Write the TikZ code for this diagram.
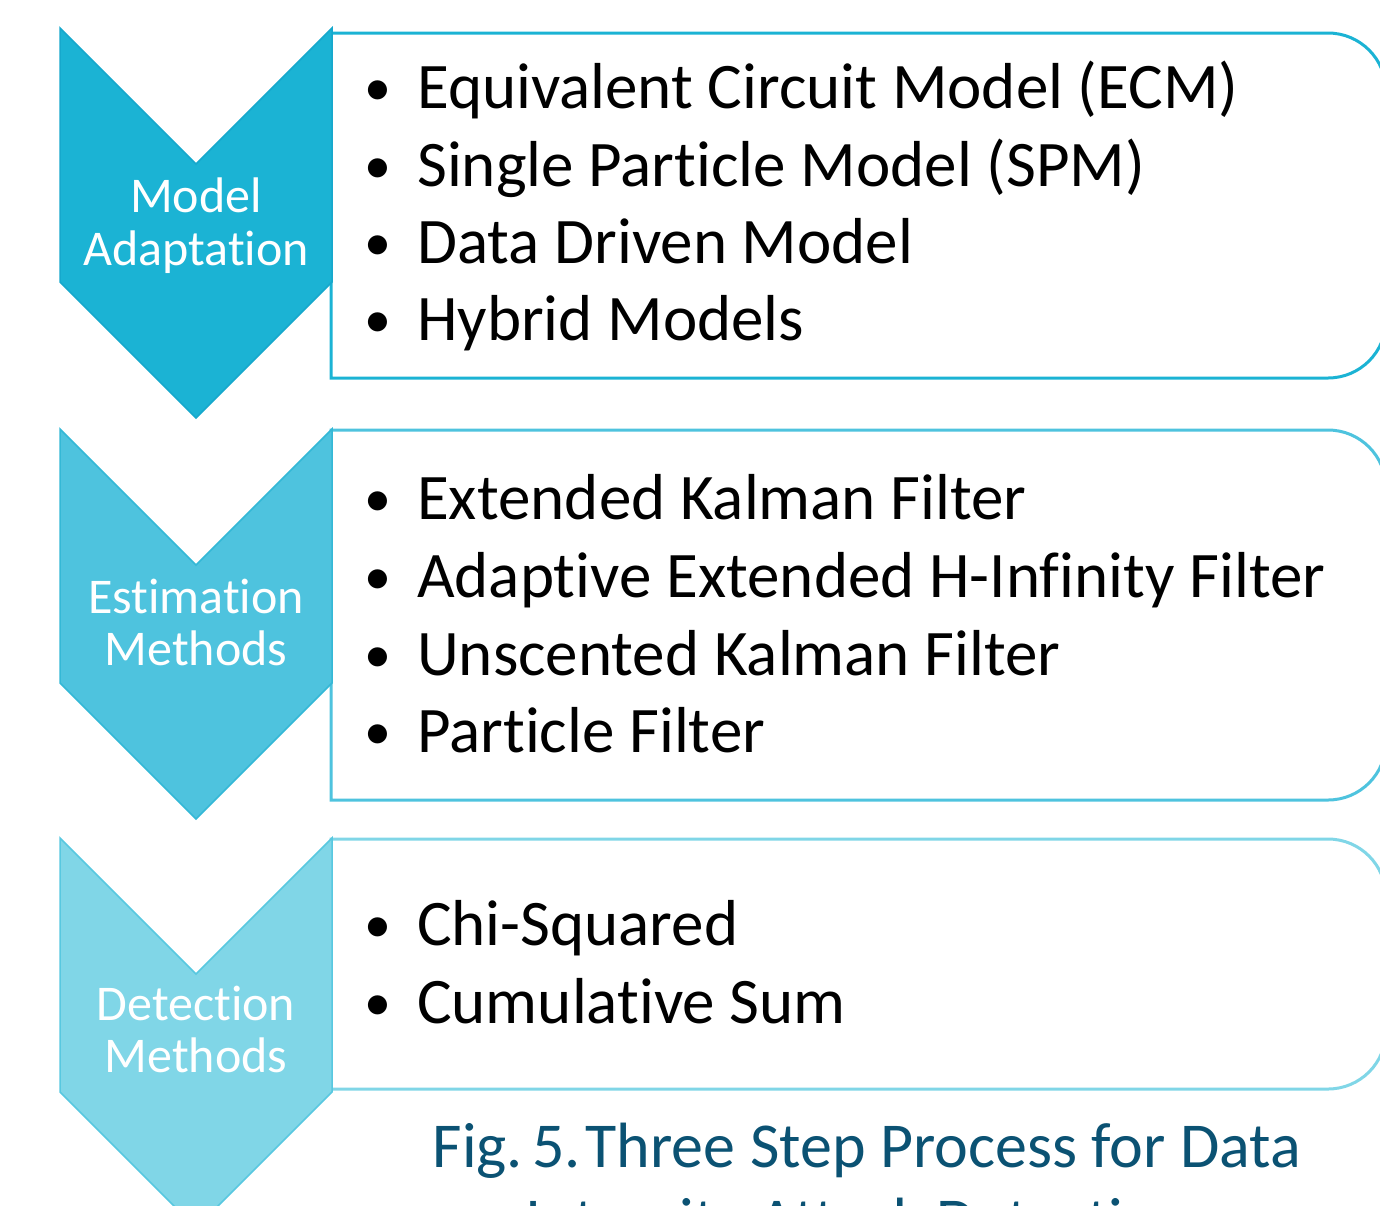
\documentclass[tikz,border=0pt]{standalone}
\usepackage{fontspec}
\setmainfont{Carlito}[Ligatures=NoCommon]
\definecolor{stepA}{RGB}{27,179,212}
\definecolor{stepAline}{RGB}{22,168,204}
\definecolor{stepB}{RGB}{78,195,222}
\definecolor{stepBline}{RGB}{52,184,214}
\definecolor{stepC}{RGB}{128,214,231}
\definecolor{stepCline}{RGB}{88,200,224}
\definecolor{captioncol}{RGB}{11,82,115}
\tikzset{
  chevlabel/.style={anchor=base, inner sep=0pt, text=white,
    font=\fontsize{50}{53}\selectfont},
  itemtext/.style={anchor=base west, inner sep=0pt, text=black,
    font=\fontsize{65}{78}\selectfont},
  itembullet/.style={anchor=base, inner sep=0pt, text=black,
    font=\fontsize{54}{60}\selectfont},
  listbox/.style={line width=3pt, fill=white},
  chevshape/.style={line width=1.5pt, line join=miter},
  captiontext/.style={anchor=base, inner sep=0pt, text=captioncol,
    font=\fontsize{64}{77}\selectfont}
}
% panel with square left corners and rounded right corners (radius 58)
\newcommand{\listpanel}[3]{% top, bottom, colour
  \draw[listbox, draw=#3] (331,#1) -- (1328,#1)
    .. controls (1360,#1) and (1386,#1+26) .. (1386,#1+58)
    -- (1386,#2-58)
    .. controls (1386,#2-26) and (1360,#2) .. (1328,#2)
    -- (331,#2) -- cycle;
}
% downward chevron starting at the given top
\newcommand{\chevron}[3]{% top, fill, line
  \draw[chevshape, fill=#2, draw=#3] (60,#1) -- (196,#1+136) -- (332,#1)
    -- (332,#1+254) -- (196,#1+390) -- (60,#1+254) -- cycle;
}
\newcommand{\bul}{\raisebox{3pt}{•}}
\begin{document}
\begin{tikzpicture}[x=1pt,y=-1pt]
\useasboundingbox (0,0) rectangle (1380,1205);
\clip (0,0) rectangle (1380,1205);

% list panels
\listpanel{33}{378}{stepA}
\listpanel{430}{800}{stepB}
\listpanel{839}{1089}{stepC}

% step chevrons
\chevron{28}{stepA}{stepAline}
\chevron{429}{stepB}{stepBline}
\chevron{838}{stepC}{stepCline}

% chevron labels
\node[chevlabel] (ma1) at (196,212) {Model};
\node[chevlabel] (ma2) at (196,265) {Adaptation};
\node[chevlabel] (em1) at (196,613) {Estimation};
\node[chevlabel] (em2) at (196,665) {Methods};
\node[chevlabel] (dm1) at (196,1020) {Detection};
\node[chevlabel] (dm2) at (196,1072) {Methods};

% first list
\node[itembullet] (ba1) at (378,108) {\bul};
\node[itemtext] (ta1) at (417,108) {Equivalent Circuit Model (ECM)};
\node[itembullet] (ba2) at (378,186) {\bul};
\node[itemtext] (ta2) at (417,186) {Single Particle Model (SPM)};
\node[itembullet] (ba3) at (378,263) {\bul};
\node[itemtext] (ta3) at (417,263) {Data Driven Model};
\node[itembullet] (ba4) at (378,340) {\bul};
\node[itemtext] (ta4) at (417,340) {Hybrid Models};

% second list
\node[itembullet] (bb1) at (378,519) {\bul};
\node[itemtext] (tb1) at (417,519) {Extended Kalman Filter};
\node[itembullet] (bb2) at (378,597) {\bul};
\node[itemtext] (tb2) at (417,597) {Adaptive Extended H-Infinity Filter};
\node[itembullet] (bb3) at (378,675) {\bul};
\node[itemtext] (tb3) at (417,675) {Unscented Kalman Filter};
\node[itembullet] (bb4) at (378,752) {\bul};
\node[itemtext] (tb4) at (417,752) {Particle Filter};

% third list
\node[itembullet] (bc1) at (378,945) {\bul};
\node[itemtext] (tc1) at (417,945) {Chi-Squared};
\node[itembullet] (bc2) at (378,1023) {\bul};
\node[itemtext] (tc2) at (417,1023) {Cumulative Sum};

% caption, its second line running past the lower edge
\node[captiontext] (cap1) at (867,1167) {Fig.\kern9pt 5.\kern5pt Three Step Process for Data};
\node[captiontext] (cap2) at (858,1242) {Integrity Attack Detection};
\end{tikzpicture}
\end{document}
